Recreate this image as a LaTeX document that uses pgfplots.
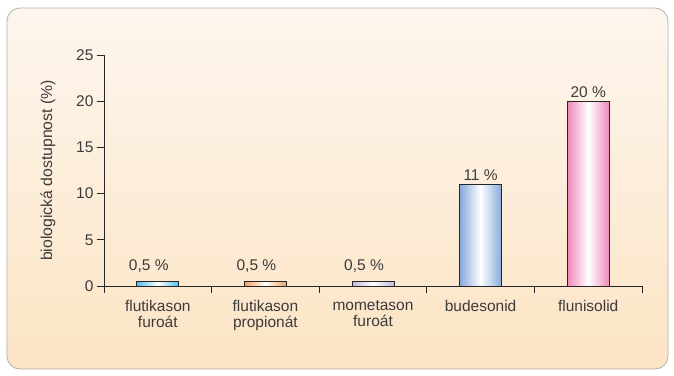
\documentclass[border=0pt]{standalone}
\usepackage{pgfplots}
\pgfplotsset{compat=1.18}
\usepackage{fontspec}
\setmainfont{Liberation Sans}
\definecolor{txt}{HTML}{3C3C3C}
\definecolor{bgtop}{HTML}{FDF6EE}
\definecolor{bgbot}{HTML}{FCE4C4}
\definecolor{bgline}{HTML}{B4B0AC}
\definecolor{cCyan}{HTML}{4FBDEB}
\definecolor{cOrange}{HTML}{F5A065}
\definecolor{cLav}{HTML}{C4B7E0}
\definecolor{cBlue}{HTML}{86A9DA}
\definecolor{cPink}{HTML}{F088BA}
\begin{document}
\begin{tikzpicture}[x=1pt,y=1pt]
\useasboundingbox (-104,-89) rectangle (570,286);
\shadedraw[top color=bgtop, bottom color=bgbot, draw=bgline, line width=0.8pt, rounded corners=13pt] (-97,-83) rectangle (564,278);
\begin{axis}[
  at={(0,0)}, anchor=south west,
  scale only axis, width=538pt, height=231pt,
  xmin=-0.5, xmax=4.5, ymin=0, ymax=25,
  axis lines=left, axis line style={-, draw=black!85, line width=0.7pt},
  tick style={draw=black!85, line width=0.7pt},
  tick align=outside, major tick length=7pt,
  ytick={0,5,...,25},
  xtick={-0.5,0.5,1.5,2.5,3.5,4.5},
  xticklabels={{flutikason\\furoát},{flutikason\\propionát},{mometason\\furoát},{budesonid},{flunisolid},{}},
  xticklabel style={xshift=53.8pt, align=center, anchor=north, yshift=-3.5pt},
  every tick label/.append style={font=\fontsize{15.5}{16}\selectfont, text=txt},
  /pgf/number format/assume math mode=true,
  ylabel={biologická dostupnost (\%)},
  ylabel style={at={(axis description cs:-0.104,0.5)}, anchor=center, font=\fontsize{15.8}{16}\selectfont, text=txt},
  bar width=42pt,
  nodes near coords,
  point meta=explicit symbolic,
  every node near coord/.append style={font=\fontsize{15.5}{16}\selectfont, text=txt, anchor=south, yshift=0pt},
  clip=false,
]
\addplot[ybar, bar shift=0pt, draw=black!85, line width=0.7pt, left color=cCyan, right color=cCyan, middle color=white,
  every node near coord/.append style={yshift=5pt, xshift=-9pt}]
  coordinates {(0,0.5) [0,5 \%]};
\addplot[ybar, bar shift=0pt, draw=black!85, line width=0.7pt, left color=cOrange, right color=cOrange, middle color=white,
  every node near coord/.append style={yshift=5pt, xshift=-9pt}]
  coordinates {(1,0.5) [0,5 \%]};
\addplot[ybar, bar shift=0pt, draw=black!85, line width=0.7pt, left color=cLav, right color=cLav, middle color=white,
  every node near coord/.append style={yshift=5pt, xshift=-9pt}]
  coordinates {(2,0.5) [0,5 \%]};
\addplot[ybar, bar shift=0pt, draw=black!85, line width=0.7pt, left color=cBlue, right color=cBlue, middle color=white]
  coordinates {(3,11) [11 \%]};
\addplot[ybar, bar shift=0pt, draw=black!85, line width=0.7pt, left color=cPink, right color=cPink, middle color=white]
  coordinates {(4,20) [20 \%]};
\end{axis}
\end{tikzpicture}
\end{document}
